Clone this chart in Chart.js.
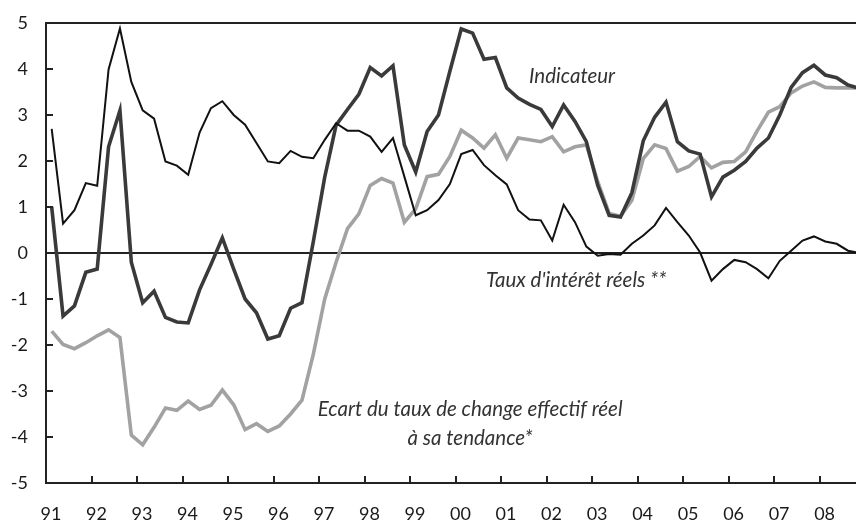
<!DOCTYPE html>
<html>
<head>
<meta charset="utf-8">
<script src="https://cdn.jsdelivr.net/npm/chart.js@4.4.1/dist/chart.umd.min.js"></script>
<style>
  html, body { margin: 0; padding: 0; background: #ffffff; }
  #wrap { width: 856px; height: 525px; position: relative; }
</style>
</head>
<body>
<div id="wrap"><canvas id="c"></canvas></div>
<script>
// ---- Data (quarterly, 1991 Q1 .. 2008 Q4) ----
const firstYear = 1991;
const lastYear = 2008;
const quarters = [];
for (let y = firstYear; y <= lastYear; y++) {
  for (let q = 1; q <= 4; q++) quarters.push(y + 'T' + q);
}

const indicateur = [
  1.0, -1.37, -1.15, -0.42,   -0.35, 2.31, 3.1, -0.2,
  -1.08, -0.83, -1.4, -1.5,   -1.52, -0.8, -0.25, 0.33,
  -0.35, -1.0, -1.3, -1.87,   -1.8, -1.2, -1.08, 0.25,
  1.65, 2.78, 3.12, 3.45,     4.03, 3.85, 4.07, 2.35,
  1.76, 2.64, 3.0, 3.95,      4.87, 4.78, 4.21, 4.25,
  3.59, 3.37, 3.23, 3.12,     2.75, 3.22, 2.86, 2.42,
  1.47, 0.82, 0.78, 1.31,     2.44, 2.95, 3.28, 2.42,
  2.22, 2.15, 1.22, 1.65,     1.8, 1.99, 2.28, 2.5,
  3.0, 3.6, 3.92, 4.08,       3.87, 3.81, 3.65, 3.58
];

const tauxInteretReels = [
  2.7, 0.64, 0.93, 1.52,      1.46, 3.99, 4.88, 3.72,
  3.1, 2.92, 1.99, 1.9,       1.7, 2.62, 3.15, 3.3,
  3.0, 2.79, 2.39, 1.99,      1.95, 2.22, 2.09, 2.06,
  2.46, 2.82, 2.66, 2.66,     2.53, 2.2, 2.5, 1.66,
  0.82, 0.93, 1.15, 1.5,      2.15, 2.24, 1.91, 1.69,
  1.49, 0.93, 0.73, 0.71,     0.27, 1.05, 0.67, 0.14,
  -0.06, -0.02, -0.04, 0.2,   0.38, 0.6, 0.98, 0.67,
  0.38, 0.01, -0.6, -0.35,    -0.15, -0.2, -0.35, -0.55,
  -0.17, 0.05, 0.27, 0.36,    0.25, 0.2, 0.05, 0.0
];

const ecartChange = [
  -1.7, -1.99, -2.08, -1.95,  -1.8, -1.67, -1.84, -3.96,
  -4.17, -3.79, -3.37, -3.42, -3.22, -3.4, -3.31, -2.98,
  -3.3, -3.84, -3.71, -3.88,  -3.76, -3.5, -3.2, -2.2,
  -1.0, -0.2, 0.53, 0.85,     1.47, 1.62, 1.52, 0.67,
  0.96, 1.66, 1.71, 2.1,      2.67, 2.5, 2.28, 2.57,
  2.06, 2.5, 2.46, 2.42,      2.53, 2.2, 2.31, 2.35,
  1.55, 0.86, 0.8, 1.15,      2.05, 2.35, 2.27, 1.78,
  1.88, 2.1, 1.85, 1.97,      1.99, 2.2, 2.65, 3.06,
  3.18, 3.48, 3.63, 3.72,     3.6, 3.59, 3.59, 3.59
];

const yTicks = [-5, -4, -3, -2, -1, 0, 1, 2, 3, 4, 5];

const annotations = [
  { lines: ['Indicateur'], x: 2002.56, y: 3.84 },
  { lines: ["Taux d'intérêt réels **"], x: 2002.65, y: -0.6 },
  { lines: ['Ecart du taux de change effectif réel', 'à sa tendance*'], x: 2000.32, y: -3.4 }
];

// quarter position on a continuous year axis (middle of quarter)
function qPos(label) {
  const [y, q] = label.split('T').map(Number);
  return y + (q - 0.5) / 4;
}
function toPoints(values) {
  return values.map((v, i) => ({ x: qPos(quarters[i]), y: v }));
}

const FONT = 'Lato, "Open Sans", sans-serif';

const innerTicks = {
  id: 'innerTicks',
  afterDatasetsDraw(chart) {
    const ctx = chart.ctx;
    const xs = chart.scales.x, ys = chart.scales.y;
    const a = chart.chartArea;
    ctx.save();
    ctx.strokeStyle = '#222';
    ctx.lineWidth = 2;
    ys.ticks.forEach(t => {
      const py = Math.round(ys.getPixelForValue(t.value));
      ctx.beginPath();
      ctx.moveTo(a.left, py);
      ctx.lineTo(a.left + 7, py);
      ctx.stroke();
    });
    xs.ticks.forEach(t => {
      if (t.value <= xs.min) return;
      const px = Math.round(xs.getPixelForValue(t.value));
      ctx.beginPath();
      ctx.moveTo(px, a.bottom);
      ctx.lineTo(px, a.bottom - 7);
      ctx.stroke();
    });
    // annotations
    ctx.fillStyle = '#333';
    ctx.font = 'italic 20.5px ' + FONT;
    ctx.textAlign = 'center';
    ctx.textBaseline = 'middle';
    annotations.forEach(an => {
      const px = xs.getPixelForValue(an.x);
      const py = ys.getPixelForValue(an.y);
      an.lines.forEach((ln, k) => ctx.fillText(ln, px, py + k * 29));
    });
    ctx.restore();
  }
};

new Chart(document.getElementById('c'), {
  type: 'line',
  data: {
    datasets: [
      { label: "Taux d'intérêt réels", data: toPoints(tauxInteretReels), borderColor: '#111111', borderWidth: 2, order: 0 },
      { label: 'Indicateur', data: toPoints(indicateur), borderColor: '#3a3a3a', borderWidth: 3.6, order: 1 },
      { label: 'Ecart du taux de change', data: toPoints(ecartChange), borderColor: '#a2a2a2', borderWidth: 3.6, order: 2 }
    ]
  },
  options: {
    responsive: true,
    maintainAspectRatio: false,
    animation: false,
    devicePixelRatio: 1,
    layout: { padding: { top: 23, right: 0, left: 0, bottom: 0 } },
    elements: {
      point: { radius: 0, hoverRadius: 0 },
      line: { tension: 0, borderJoinStyle: 'miter', fill: false }
    },
    plugins: { legend: { display: false }, tooltip: { enabled: false } },
    scales: {
      x: {
        type: 'linear',
        min: firstYear,
        max: 2008.8,
        afterFit(s) { s.height = 42; s.paddingLeft = 0; s.paddingRight = 0; },
        border: { display: true, color: '#222', width: 2 },
        grid: { display: false, drawTicks: false },
        ticks: {
          stepSize: 1,
          includeBounds: false,
          autoSkip: false,
          maxRotation: 0,
          padding: 20,
          labelOffset: 5,
          color: '#1a1a1a',
          font: { family: FONT, size: 18 },
          callback: v => String(v % 100).padStart(2, '0')
        }
      },
      y: {
        min: yTicks[0],
        max: yTicks[yTicks.length - 1],
        afterFit(s) { s.width = 46; s.paddingTop = 0; s.paddingBottom = 0; },
        afterBuildTicks(s) { s.ticks = yTicks.map(v => ({ value: v })); },
        border: { display: true, color: '#222', width: 2 },
        grid: {
          drawTicks: false,
          lineWidth: 2,
          color: c => (c.tick && (c.tick.value === 0 || c.tick.value === 5)) ? '#222' : 'rgba(0,0,0,0)'
        },
        ticks: {
          padding: 18,
          color: '#1a1a1a',
          font: { family: FONT, size: 18 }
        }
      }
    }
  },
  plugins: [innerTicks]
});
</script>
</body>
</html>
